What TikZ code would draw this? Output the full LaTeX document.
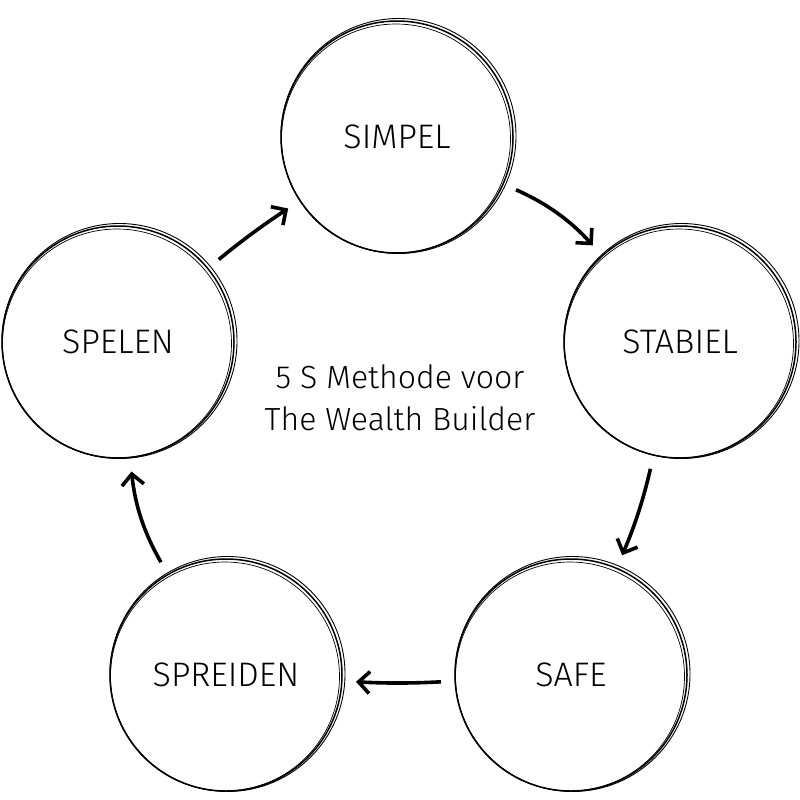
\documentclass[tikz,border=0pt]{standalone}
\usepackage{fontspec}
\setmainfont{Fira Sans Light}
\usetikzlibrary{arrows.meta}
\begin{document}
\begin{tikzpicture}[x=1pt,y=-1pt,
  circ/.style={circle,minimum size=232pt,inner sep=0pt,font=\fontsize{34}{40}\selectfont},
  ink/.style={line width=1.5pt,black},
  arr/.style={line width=3.6pt,-{Straight Barb[length=11pt,width=22pt]},shorten <=14pt,shorten >=14pt}]
\useasboundingbox (0,0) rectangle (800,800);
\node[circ] (simpel) at (397,137) {SIMPEL};
\node[circ] (stabiel) at (680,342) {STABIEL};
\node[circ] (safe) at (571,675) {SAFE};
\node[circ] (spreiden) at (226,675) {SPREIDEN};
\node[circ] (spelen) at (118,342) {SPELEN};
\foreach \n in {simpel,stabiel,safe,spreiden,spelen}{
  \draw[ink] (\n.center) circle (116pt);
  \draw[ink,line width=0.9pt] ([shift={(1.5,-1)}]\n.center) circle (117.5pt);
  \draw[ink,line width=0.7pt] ([shift={(-1,1.5)}]\n.center) circle (114.5pt);
}
\node[align=center,font=\fontsize{32}{42}\selectfont] (title) at (400,398) {5 S Methode voor\\The Wealth Builder};
\draw[arr] (simpel) to[bend left=12] (stabiel);
\draw[arr] (stabiel) to[bend left=5] (safe);
\draw[arr] (safe) to[bend left=3] (spreiden);
\draw[arr] (spreiden) to[bend left=12] (spelen);
\draw[arr] (spelen) to[bend left=3] (simpel);
\end{tikzpicture}
\end{document}
